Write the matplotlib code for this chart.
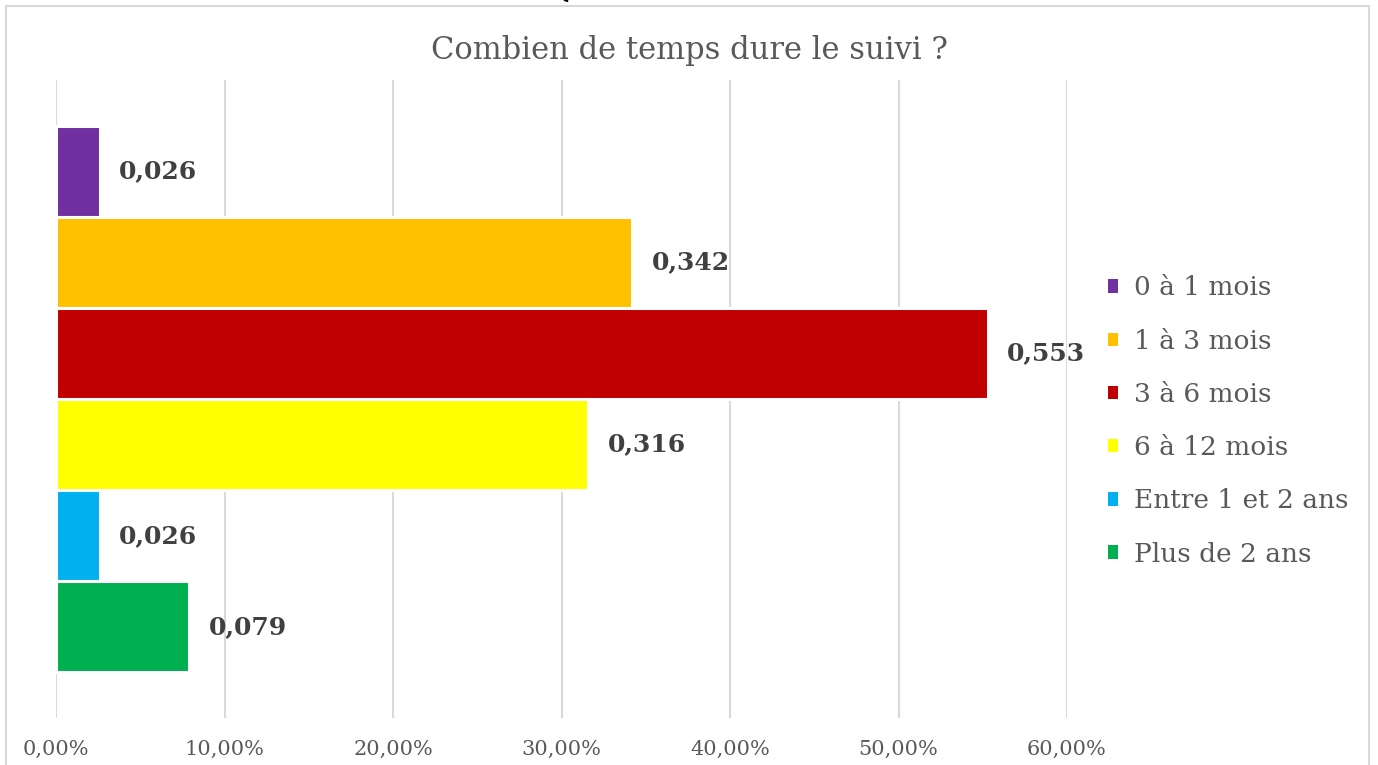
import matplotlib
matplotlib.use("Agg")
import matplotlib.pyplot as plt
from matplotlib.patches import Rectangle
from matplotlib.ticker import FuncFormatter, MultipleLocator

# ---- data ----
categories = ["0 à 1 mois", "1 à 3 mois", "3 à 6 mois", "6 à 12 mois",
              "Entre 1 et 2 ans", "Plus de 2 ans"]
values = [0.026, 0.342, 0.553, 0.316, 0.026, 0.079]
labels = ["0,026", "0,342", "0,553", "0,316", "0,026", "0,079"]
colors = ["#7030A0", "#FFC000", "#C00000", "#FFFF00", "#00B0F0", "#00B050"]
title = "Combien de temps dure le suivi ?"

FONT = "DejaVu Serif"
plt.rcParams['font.family'] = [FONT, 'DejaVu Sans']

W, H = 1378, 765
fig = plt.figure(figsize=(W / 100, H / 100), dpi=100)

# chart border
fig.patches.append(Rectangle((5.5 / W, -0.1), (1369 - 5.5) / W, 1.1 - 6 / H,
                             transform=fig.transFigure, fill=False,
                             edgecolor="#D9D9D9", linewidth=1.5, zorder=0))
# cut-off glyph at very top (as in the reference)
fig.text(561 / W, 1 - (-10) / H, "Q", ha="center", va="center",
         fontsize=20, color="#000000")

ax = fig.add_axes([56 / W, 1 - 718 / H, (1067 - 56) / W, (718 - 80) / H])
ax.set_xlim(0, 0.6)
ax.set_ylim(0.5, -0.5)

n = len(values)
group = 547 / 638
bh = group / n
for i, (v, c, lab) in enumerate(zip(values, colors, labels)):
    yc = -group / 2 + bh * (i + 0.5)
    ax.barh(yc, v, height=bh, color=c, edgecolor="white", linewidth=2.2,
            label=categories[i], zorder=2)
    ax.annotate(lab, (v, yc), xytext=(14, 0), textcoords="offset points",
                ha="left", va="center", fontsize=18, fontweight="bold",
                color="#404040", zorder=3)

ax.xaxis.set_major_locator(MultipleLocator(0.1))
ax.xaxis.set_major_formatter(FuncFormatter(lambda x, p: f"{x*100:.2f}%".replace(".", ",")))
ax.grid(axis="x", color="#D9D9D9", linewidth=1.5, zorder=0)
ax.set_axisbelow(True)
ax.set_yticks([])
ax.tick_params(axis="x", length=0, pad=16, labelsize=15, labelcolor="#595959")
for s in ax.spines.values():
    s.set_visible(False)
ax.set_facecolor("none")

fig.text(0.5, 1 - 50 / H, title, ha="center", va="center", fontsize=22,
         color="#595959")

handles, labs = ax.get_legend_handles_labels()
leg = fig.legend(handles, labs, loc="center left",
                 bbox_to_anchor=(1084 / W, 1 - 421 / H), frameon=False,
                 fontsize=19, labelcolor="#595959", handlelength=0.4,
                 handleheight=0.4, handletextpad=0.6, labelspacing=1.07)
for p in leg.get_patches():
    p.set_edgecolor("none")

fig.savefig("out.png", dpi=100)
